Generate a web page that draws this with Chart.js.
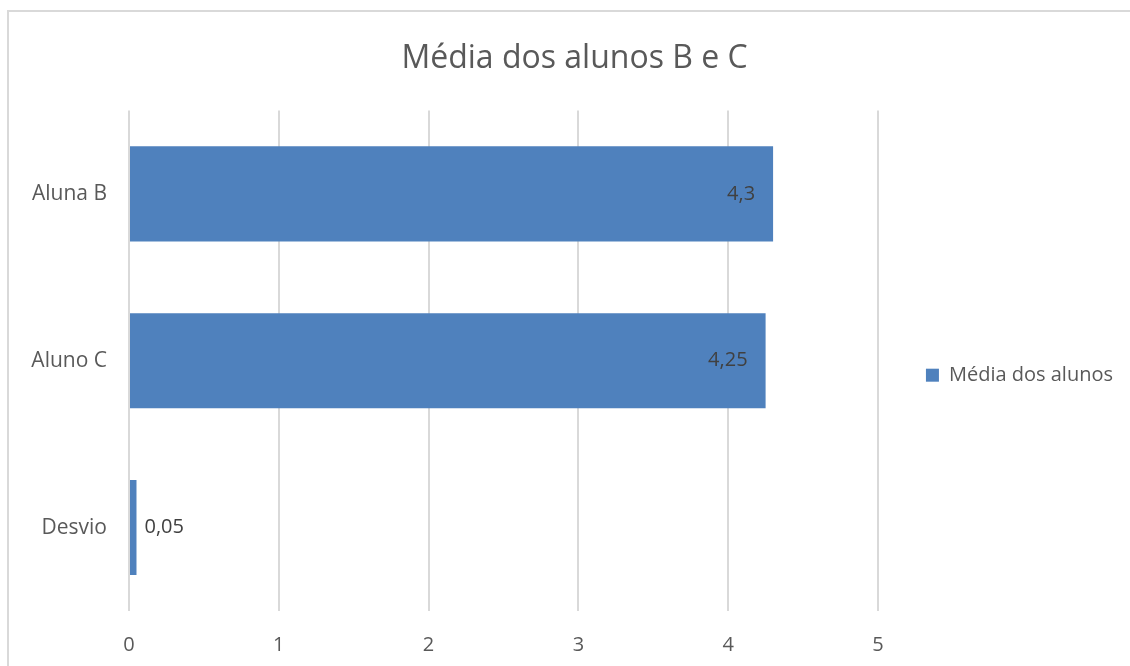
<!DOCTYPE html>
<html lang="pt">
  <head>
    <meta charset="UTF-8" />
    <title>Média dos alunos B e C</title>
    <script src="https://cdn.jsdelivr.net/npm/chart.js"></script>
    <style>
      html, body {
        margin: 0;
        padding: 0;
        background: #fff;
        overflow: hidden;
      }
      #wrap {
        position: absolute;
        left: 0;
        top: 0;
        width: 1130px;
        height: 666px;
      }
    </style>
  </head>
  <body>
    <div id="wrap"><canvas id="plot"></canvas></div>
    <script>
      const categories = ["Aluna B", "Aluno C", "Desvio"];
      const values = [4.3, 4.25, 0.05];
      const seriesName = "Média dos alunos";
      const xTicks = [0, 1, 2, 3, 4, 5];

      const FONT = "'Open Sans', 'Noto Sans', sans-serif";
      const BLUE = "#4f81bd";

      const fmt = (v) => String(v).replace(".", ",");

      // chart frame: only the top and left edges are inside the picture
      const frame = {
        id: "frame",
        beforeDraw(chart) {
          const ctx = chart.ctx;
          ctx.save();
          ctx.strokeStyle = "#d9d9d9";
          ctx.lineWidth = 2;
          ctx.beginPath();
          ctx.moveTo(8, chart.height);
          ctx.lineTo(8, 11);
          ctx.lineTo(chart.width, 11);
          ctx.stroke();
          ctx.restore();
        },
      };

      // value labels: inside end for long bars, outside for short ones
      const valueLabels = {
        id: "valueLabels",
        afterDatasetsDraw(chart) {
          const ctx = chart.ctx;
          const meta = chart.getDatasetMeta(0);
          ctx.save();
          ctx.font = "20px " + FONT;
          ctx.fillStyle = "#404040";
          ctx.textBaseline = "middle";
          meta.data.forEach((bar, i) => {
            const v = values[i];
            if (v > 1) {
              ctx.textAlign = "right";
              ctx.fillText(fmt(v), bar.x - 18, bar.y);
            } else {
              ctx.textAlign = "left";
              ctx.fillText(fmt(v), bar.x + 8, bar.y);
            }
          });
          ctx.restore();
        },
      };

      new Chart(document.getElementById("plot"), {
        type: "bar",
        data: {
          labels: categories,
          datasets: [
            {
              label: seriesName,
              data: values,
              backgroundColor: BLUE,
              borderWidth: 0,
              barPercentage: 0.57,
              categoryPercentage: 1,
            },
          ],
        },
        options: {
          indexAxis: "y",
          responsive: true,
          maintainAspectRatio: false,
          animation: false,
          layout: { padding: { left: 26, right: 7, top: 0, bottom: 0 } },
          plugins: {
            title: {
              display: true,
              text: "Média dos alunos B e C",
              color: "#595959",
              font: { family: FONT, size: 32, weight: "normal" },
              padding: { top: 40, bottom: 32 },
            },
            legend: {
              position: "right",
              // empty title only pushes the entry down to match the reference
              title: {
                display: true,
                text: " ",
                font: { family: FONT, size: 12 },
                padding: { top: 0, bottom: 70 },
              },
              labels: {
                color: "#595959",
                font: { family: FONT, size: 20 },
                boxWidth: 13,
                boxHeight: 13,
                padding: 48,
              },
            },
            tooltip: { enabled: false },
          },
          scales: {
            x: {
              min: 0,
              max: 5,
              afterBuildTicks: (scale) => {
                scale.ticks = xTicks.map((v) => ({ value: v }));
              },
              afterFit: (scale) => {
                scale.height = 55;
              },
              ticks: {
                color: "#595959",
                font: { family: FONT, size: 20 },
                padding: 22,
                callback: (v) => fmt(v),
              },
              grid: {
                color: "#d9d9d9",
                lineWidth: 2,
                drawTicks: false,
              },
              border: { display: false },
            },
            y: {
              afterFit: (scale) => {
                scale.width = 103;
              },
              ticks: {
                color: "#595959",
                font: { family: FONT, size: 21 },
                padding: 22,
              },
              grid: { display: false, drawTicks: false },
              border: { display: false },
            },
          },
        },
        plugins: [frame, valueLabels],
      });
    </script>
  </body>
</html>
